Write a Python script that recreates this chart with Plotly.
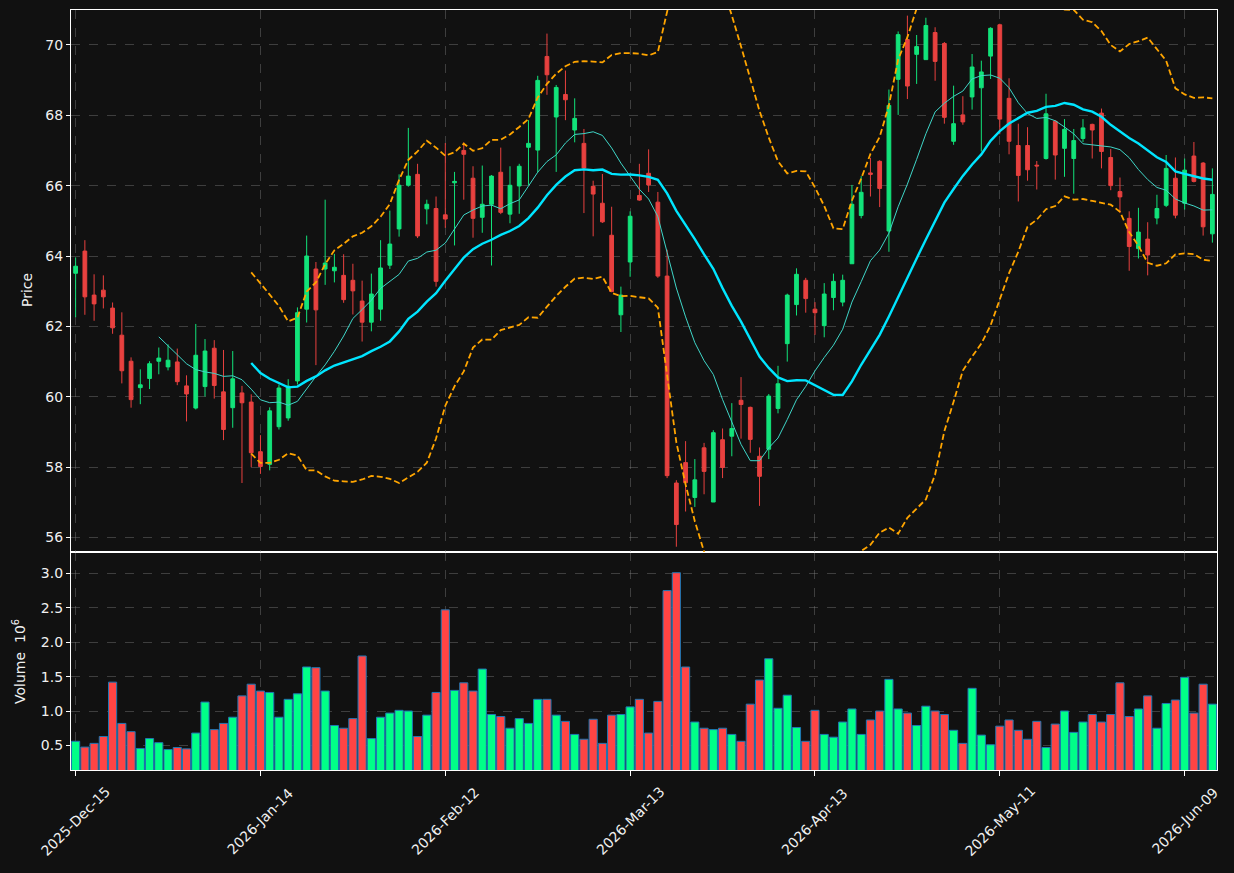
import pandas as pd
import plotly.graph_objects as go

# ---------------- data ----------------
HOLIDAYS = ["2025-12-25", "2026-01-01", "2026-01-19", "2026-02-16", "2026-04-03", "2026-05-25"]
START_DATE = "2025-12-15"

OPEN = [63.51, 64.14, 62.89, 63.03, 62.52, 61.75, 61.01, 60.26, 60.52, 61.01,
        60.85, 60.99, 60.31, 59.68, 60.29, 61.38, 60.14, 59.69, 60.11, 59.85,
        58.44, 58.08, 59.15, 59.40, 60.45, 62.49, 63.63, 63.63, 63.58, 63.45,
        63.31, 62.72, 62.12, 62.49, 63.74, 64.77, 66.01, 66.32, 65.34, 65.35,
        65.17, 66.08, 67.00, 66.21, 65.10, 65.47, 66.38, 65.19, 65.99, 67.09,
        67.01, 69.67, 67.95, 68.59, 67.58, 67.20, 65.98, 65.50, 64.59, 62.33,
        63.83, 65.72, 66.35, 65.53, 63.43, 57.55, 58.13, 57.14, 58.55, 57.01,
        58.78, 58.88, 59.90, 59.70, 58.31, 58.51, 59.67, 61.51, 62.62, 63.31,
        62.49, 62.02, 62.82, 62.69, 63.78, 65.15, 66.36, 66.69, 64.71, 69.02,
        70.15, 69.73, 69.58, 70.35, 70.04, 67.26, 68.01, 68.52, 68.78, 69.68,
        70.57, 68.48, 67.14, 67.14, 66.58, 66.77, 67.83, 67.06, 66.77, 67.34,
        67.74, 68.06, 66.80, 65.83, 65.07, 64.21, 64.48, 65.08, 65.44, 66.21,
        65.50, 66.84, 66.64, 64.63]
HIGH = [63.96, 64.45, 63.48, 63.45, 62.68, 62.40, 61.12, 60.78, 61.01, 61.40,
        61.49, 61.37, 60.61, 62.07, 61.64, 61.61, 61.33, 61.30, 60.31, 60.07,
        58.91, 59.70, 60.35, 60.50, 62.54, 64.58, 63.83, 65.60, 64.06, 64.05,
        63.78, 63.30, 63.50, 64.45, 65.29, 66.32, 67.64, 66.62, 65.60, 65.69,
        67.21, 66.39, 67.23, 66.55, 66.57, 66.30, 67.08, 66.55, 66.62, 67.86,
        69.12, 70.32, 68.86, 69.27, 68.48, 67.61, 66.14, 66.33, 65.40, 63.13,
        65.27, 66.62, 67.03, 65.82, 64.18, 57.63, 58.74, 58.23, 58.69, 59.05,
        59.10, 59.82, 60.56, 59.72, 58.56, 60.08, 60.88, 62.93, 63.65, 63.38,
        62.69, 63.23, 63.50, 63.47, 66.02, 66.27, 66.79, 66.72, 68.73, 70.38,
        70.83, 70.28, 70.77, 70.50, 70.08, 68.84, 68.54, 69.74, 69.55, 70.50,
        70.60, 69.05, 67.76, 67.66, 66.70, 68.61, 67.86, 67.89, 67.61, 67.89,
        67.76, 68.19, 67.04, 66.23, 65.27, 65.37, 64.96, 65.74, 66.87, 66.80,
        66.77, 67.24, 66.67, 66.49]
LOW = [62.26, 62.33, 62.16, 62.51, 61.79, 60.38, 59.69, 59.79, 60.22, 60.64,
       60.75, 60.33, 59.30, 59.64, 60.01, 59.95, 58.77, 59.12, 57.55, 58.00,
       57.81, 57.91, 59.07, 59.32, 60.35, 62.11, 60.90, 63.18, 63.25, 62.67,
       62.34, 61.57, 61.86, 62.16, 63.63, 64.55, 65.97, 64.51, 64.90, 63.13,
       64.80, 64.30, 65.60, 64.52, 64.66, 63.73, 65.19, 64.93, 65.20, 66.02,
       66.37, 68.58, 66.39, 67.86, 67.23, 65.22, 64.56, 64.94, 62.97, 61.84,
       63.41, 65.57, 65.82, 63.38, 57.69, 55.74, 56.74, 56.87, 57.23, 57.01,
       57.69, 58.31, 58.81, 58.41, 56.90, 58.23, 59.53, 61.00, 62.31, 62.39,
       61.76, 61.69, 62.46, 62.57, 63.78, 65.07, 65.69, 65.39, 64.12, 68.01,
       68.46, 68.89, 69.57, 68.98, 67.76, 67.16, 67.73, 68.16, 66.97, 69.03,
       67.46, 66.89, 65.55, 66.14, 65.89, 66.74, 66.17, 66.25, 65.77, 67.24,
       66.77, 66.49, 65.87, 65.22, 63.58, 63.93, 63.45, 64.90, 65.39, 65.07,
       65.32, 66.09, 64.58, 64.38]
CLOSE = [63.71, 62.84, 62.64, 62.84, 61.96, 60.74, 59.92, 60.34, 60.94, 61.10,
         61.04, 60.43, 60.08, 61.18, 61.30, 60.32, 59.07, 60.51, 59.83, 58.41,
         58.02, 59.60, 60.25, 60.30, 62.39, 64.00, 62.47, 63.80, 63.68, 62.76,
         63.01, 62.12, 62.92, 63.66, 64.34, 66.01, 66.27, 64.57, 65.47, 63.28,
         65.05, 66.12, 66.89, 65.07, 65.47, 66.27, 65.24, 66.01, 66.55, 67.20,
         68.99, 69.15, 68.79, 68.44, 67.91, 66.50, 65.76, 64.97, 62.99, 62.89,
         65.13, 65.59, 66.02, 63.43, 57.76, 56.37, 57.56, 57.64, 57.88, 58.98,
         57.99, 59.10, 59.78, 58.79, 57.74, 60.02, 60.37, 62.89, 63.48, 62.79,
         62.39, 62.92, 63.28, 63.31, 65.47, 65.81, 66.32, 65.92, 68.28, 70.29,
         68.83, 69.95, 70.55, 69.53, 67.94, 67.76, 67.81, 69.37, 69.23, 70.47,
         67.89, 67.26, 66.29, 66.45, 66.56, 68.04, 66.87, 67.60, 67.28, 67.64,
         67.58, 66.97, 66.00, 65.68, 64.27, 64.68, 64.03, 65.35, 66.49, 65.16,
         66.44, 66.12, 64.83, 65.75]
VOLUME_M = [0.56, 0.476, 0.53, 0.63, 1.42, 0.82, 0.70, 0.456, 0.60, 0.54,
            0.44, 0.47, 0.45, 0.68, 1.13, 0.73, 0.82, 0.91, 1.22, 1.39,
            1.29, 1.27, 0.91, 1.17, 1.25, 1.64, 1.63, 1.29, 0.79, 0.75,
            0.89, 1.80, 0.60, 0.91, 0.97, 1.01, 1.00, 0.63, 0.94, 1.27,
            2.47, 1.30, 1.41, 1.29, 1.61, 0.95, 0.92, 0.75, 0.89, 0.82,
            1.17, 1.17, 0.94, 0.85, 0.66, 0.59, 0.88, 0.53, 0.94, 0.95,
            1.06, 1.17, 0.68, 1.14, 2.75, 3.01, 1.64, 0.84, 0.75, 0.73,
            0.75, 0.66, 0.56, 1.10, 1.45, 1.76, 1.04, 1.23, 0.76, 0.56,
            1.01, 0.66, 0.62, 0.84, 1.03, 0.66, 0.87, 1.00, 1.46, 1.03,
            0.97, 0.79, 1.07, 1.00, 0.95, 0.72, 0.53, 1.33, 0.65, 0.51,
            0.78, 0.87, 0.72, 0.59, 0.85, 0.47, 0.81, 1.00, 0.69, 0.84,
            0.95, 0.84, 0.95, 1.41, 0.92, 1.03, 1.22, 0.75, 1.11, 1.16,
            1.49, 0.97, 1.39, 1.10]
TICK_STEP = 20

# ---------------- derived ----------------
dates = pd.bdate_range(START_DATE, periods=len(CLOSE), freq="C", holidays=HOLIDAYS)
X = [d.strftime("%Y-%m-%d") for d in dates]
tickvals = X[::TICK_STEP]
ticktext = [d.strftime("%Y-%b-%d") for d in dates[::TICK_STEP]]

close = pd.Series(CLOSE)
ma10 = close.rolling(10).mean()
ma20 = close.rolling(20).mean()
sd20 = close.rolling(20).std(ddof=0)
upper = ma20 + 2 * sd20
lower = ma20 - 2 * sd20

def clean(s):
    return [None if pd.isna(v) else float(v) for v in s]

UP_C, DN_C = "#12e37a", "#e8413f"
VUP_C, VDN_C = "#00ff88", "#ff4444"
vol_colors = [VUP_C if c >= o else VDN_C for o, c in zip(OPEN, CLOSE)]

BG = "#111111"
GRID = "rgba(130,130,130,0.40)"
FONT = "DejaVu Sans, sans-serif"
TXT = "#f0f0f0"

fig = go.Figure()
fig.add_trace(go.Candlestick(
    x=X, open=OPEN, high=HIGH, low=LOW, close=CLOSE,
    xaxis="x2", yaxis="y2",
    increasing=dict(line=dict(color=UP_C, width=1), fillcolor=UP_C),
    decreasing=dict(line=dict(color=DN_C, width=1), fillcolor=DN_C),
    whiskerwidth=0, showlegend=False, name="price"))
fig.add_trace(go.Scatter(x=X, y=clean(ma10), xaxis="x2", yaxis="y2", mode="lines",
                         line=dict(color="#3fd6c8", width=1), showlegend=False, name="MA10"))
fig.add_trace(go.Scatter(x=X, y=clean(ma20), xaxis="x2", yaxis="y2", mode="lines",
                         line=dict(color="#00e5ff", width=2.4), showlegend=False, name="MA20"))
fig.add_trace(go.Scatter(x=X, y=clean(upper), xaxis="x2", yaxis="y2", mode="lines",
                         line=dict(color="#ffa500", width=1.8, dash="6px,3px"), showlegend=False, name="Upper"))
fig.add_trace(go.Scatter(x=X, y=clean(lower), xaxis="x2", yaxis="y2", mode="lines",
                         line=dict(color="#ffa500", width=1.8, dash="6px,3px"), showlegend=False, name="Lower"))
fig.add_trace(go.Bar(x=X, y=VOLUME_M, xaxis="x", yaxis="y",
                     marker=dict(color=vol_colors, line=dict(color="#1f77b4", width=1)),
                     showlegend=False, name="Volume"))

SPLIT = 218 / 760
base = dict(showline=True, linecolor="white", linewidth=1.2, mirror=True,
            showgrid=True, gridcolor=GRID, griddash="dash", gridwidth=1,
            zeroline=False, tickfont=dict(family=FONT, size=14, color=TXT),
            tickcolor="white")

# x tick labels: rotated 45 degrees, centred on their ticks
tick_annotations = [
    dict(text=t, x=v, xref="x", yref="paper", y=(770 - 821) / 760, textangle=-45,
         showarrow=False, xanchor="center", yanchor="middle",
         font=dict(family=FONT, size=14, color=TXT))
    for v, t in zip(tickvals, ticktext)
]

fig.update_layout(
    width=1234, height=873,
    paper_bgcolor=BG, plot_bgcolor=BG,
    margin=dict(l=71, r=17, t=10, b=103),
    bargap=0.12, boxgap=0.42,
    font=dict(family=FONT, color=TXT),
    xaxis=dict(**base, type="category", domain=[0, 1], anchor="y",
               range=[-0.5, len(X) - 0.5], tickmode="array", tickvals=tickvals,
               ticktext=ticktext, showticklabels=False, ticks="outside", ticklen=5),
    xaxis2=dict(**base, type="category", domain=[0, 1], anchor="y2", matches="x",
                range=[-0.5, len(X) - 0.5], tickmode="array", tickvals=tickvals,
                showticklabels=False, ticks="", rangeslider=dict(visible=False)),
    yaxis=dict(**base, domain=[0, SPLIT], anchor="x", range=[0.143, 3.311],
               tickmode="array", tickvals=[0.5, 1.0, 1.5, 2.0, 2.5, 3.0], tickformat=".1f",
               ticks="outside", ticklen=4),
    yaxis2=dict(**base, domain=[SPLIT, 1], anchor="x2", range=[55.59, 70.99],
                tickmode="array", tickvals=[56, 58, 60, 62, 64, 66, 68, 70],
                ticks="outside", ticklen=4),
    annotations=tick_annotations + [
        dict(text="Price", xref="paper", yref="paper", x=(27 - 71) / 1146, y=(770 - 290) / 760,
             textangle=-90, showarrow=False, font=dict(family=FONT, size=14, color=TXT),
             xanchor="center", yanchor="middle"),
        dict(text="Volume  10<sup>6</sup>", xref="paper", yref="paper", x=(19 - 71) / 1146,
             y=(770 - 662) / 760, textangle=-90, showarrow=False,
             font=dict(family=FONT, size=14, color=TXT), xanchor="center", yanchor="middle"),
    ],
)

fig.write_html("out.html")
